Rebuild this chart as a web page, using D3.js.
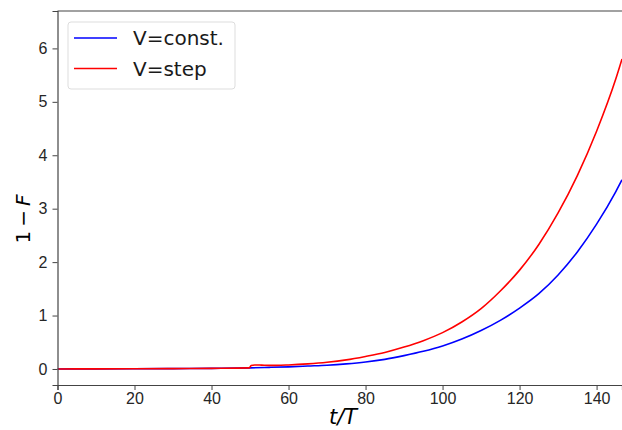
<!DOCTYPE html>
<html>
<head>
<meta charset="utf-8">
<script src="https://cdn.jsdelivr.net/npm/d3@7"></script>
<style>
  body { margin: 0; background: #fff; }
  svg { font-family: "DejaVu Sans", sans-serif; }
</style>
</head>
<body>
<div id="chart"></div>
<script>
var width = 622,
    height = 430;

// values
var tConst = [0, 10, 20, 30, 40, 50, 55, 60, 65, 70, 75, 80, 85, 90, 95, 100, 105, 110, 115, 120, 125, 130, 135, 140, 145, 146.6];
var vConst = [0, 0.002, 0.004, 0.007, 0.012, 0.02, 0.03, 0.04, 0.055, 0.07, 0.095, 0.13, 0.18, 0.25, 0.33, 0.43, 0.56, 0.72, 0.91, 1.14, 1.41, 1.76, 2.19, 2.71, 3.32, 3.54];

var tStep = [0, 10, 20, 30, 40, 49.8, 50.3, 51.2, 53, 55, 57, 60, 65, 70, 75, 80, 85, 90, 95, 100, 105, 110, 115, 120, 125, 130, 135, 140, 145, 146.6];
var vStep = [0, 0.002, 0.004, 0.007, 0.012, 0.02, 0.065, 0.075, 0.072, 0.068, 0.068, 0.075, 0.095, 0.125, 0.17, 0.235, 0.31, 0.41, 0.53, 0.68, 0.88, 1.13, 1.46, 1.85, 2.33, 2.92, 3.62, 4.45, 5.43, 5.8];

var seriesNames = ["V=const.", "V=step"];
var seriesColors = ["#0000ff", "#ff0000"];
var xTicks = [0, 20, 40, 60, 80, 100, 120, 140];
var yTicks = [0, 1, 2, 3, 4, 5, 6];

var margin = {left: 57.5, right: 0, top: 11, bottom: 45};

var x = d3.scaleLinear()
    .domain([0, 146.6])
    .range([margin.left, width - margin.right]);
var y = d3.scaleLinear()
    .domain([-0.3, 6.7])
    .range([height - margin.bottom, margin.top]);

var svg = d3.select("#chart").append("svg")
    .attr("width", width)
    .attr("height", height);

svg.append("clipPath").attr("id", "clip")
  .append("rect")
    .attr("x", margin.left)
    .attr("y", margin.top)
    .attr("width", width - margin.left - margin.right)
    .attr("height", height - margin.top - margin.bottom);

var line = d3.line()
    .x(d => x(d[0]))
    .y(d => y(d[1]))
    .curve(d3.curveMonotoneX);

var series = [
  d3.zip(tConst, vConst),
  d3.zip(tStep, vStep)
];

var g = svg.append("g").attr("clip-path", "url(#clip)");
series.forEach(function(s, i) {
  g.append("path")
    .datum(s)
    .attr("fill", "none")
    .attr("stroke", seriesColors[i])
    .attr("stroke-width", 1.6)
    .attr("d", line);
});

// axes
var xAxis = svg.append("g")
    .attr("transform", "translate(0," + (height - margin.bottom) + ")")
    .call(d3.axisBottom(x).tickValues(xTicks).tickFormat(d3.format("d")).tickSize(5).tickPadding(3));
var yAxis = svg.append("g")
    .attr("transform", "translate(" + margin.left + ",0)")
    .call(d3.axisLeft(y).tickValues(yTicks).tickFormat(d3.format("d")).tickSize(5).tickPadding(5));

[xAxis, yAxis].forEach(function(a) {
  a.selectAll("text").style("font-size", "16px").attr("fill", "#262626");
  a.selectAll("line").attr("stroke", "#444");
  a.select(".domain").attr("stroke", "#444").attr("stroke-width", 1.2);
});

// top spine
svg.append("line")
    .attr("x1", margin.left).attr("x2", width)
    .attr("y1", margin.top).attr("y2", margin.top)
    .attr("stroke", "#444").attr("stroke-width", 1.2);

// axis labels
svg.append("text")
    .attr("x", 343)
    .attr("y", 424)
    .attr("text-anchor", "middle")
    .style("font-size", "21px")
    .style("font-style", "italic")
    .text("t/T");

var yl = svg.append("text")
    .attr("transform", "translate(30,219) rotate(-90)")
    .attr("text-anchor", "middle")
    .style("font-size", "20px");
yl.append("tspan").text("1\u2009\u2212\u2009");
yl.append("tspan").style("font-style", "italic").text("F");

// legend
var leg = svg.append("g");
leg.append("rect")
    .attr("x", 68).attr("y", 22)
    .attr("width", 167).attr("height", 67)
    .attr("rx", 3)
    .attr("fill", "#fff")
    .attr("stroke", "#ddd");
seriesNames.forEach(function(name, i) {
  var yy = 38 + i * 30.5;
  leg.append("line")
    .attr("x1", 74).attr("x2", 117)
    .attr("y1", yy).attr("y2", yy)
    .attr("stroke", seriesColors[i])
    .attr("stroke-width", 1.6);
  leg.append("text")
    .attr("x", 133).attr("y", yy + 7)
    .style("font-size", "20px")
    .attr("fill", "#1a1a1a")
    .text(name);
});
</script>
</body>
</html>
